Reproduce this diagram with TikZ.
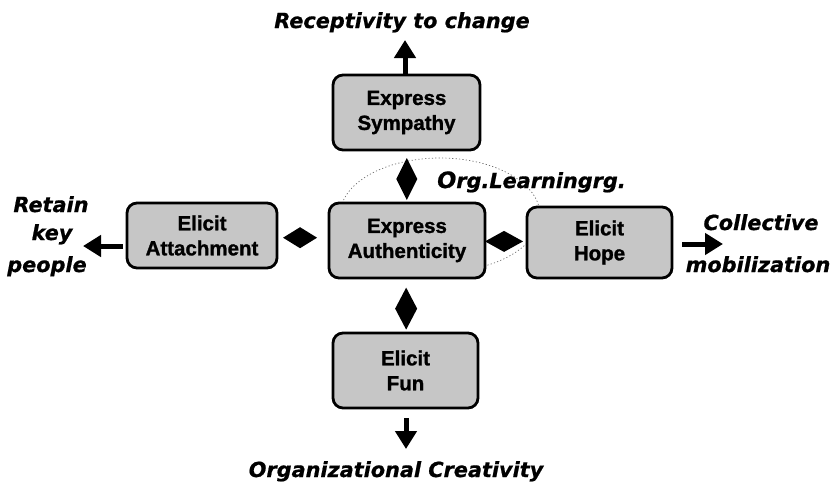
\documentclass[tikz,border=0pt]{standalone}
\usepackage{fontspec}
\setmainfont{Liberation Sans}
\newfontfamily\boxfont{Liberation Sans}[BoldFeatures={FakeBold=1.3}]
\newfontfamily\labfont{DejaVu Sans}[BoldItalicFeatures={FakeBold=0.8}]
\usetikzlibrary{shapes.geometric,arrows.meta}
\definecolor{boxgray}{HTML}{C6C6C6}
\definecolor{ellgray}{HTML}{707070}
\begin{document}
\begin{tikzpicture}[x=1pt,y=-1pt,
  box/.style={draw=black, line width=2.8pt, rounded corners=10pt, fill=boxgray,
    align=center, font=\boxfont\fontsize{20.5}{25}\selectfont\bfseries, inner sep=0pt},
  dia/.style={diamond, fill=black, draw=none, inner sep=0pt, outer sep=0pt},
  arr/.style={line width=5pt, -{Triangle[length=18pt,width=21pt]}},
  lab/.style={font=\labfont\bfseries\itshape\fontsize{20.8}{30}\selectfont, inner sep=0pt}
]
\useasboundingbox (0,0) rectangle (838,485);

% dotted ellipse (behind everything)
\draw[ellgray, line width=0.7pt, dash pattern=on 1.2pt off 2.2pt]
  (440,215) ellipse [x radius=100pt, y radius=57pt];

% boxes
\node[box, minimum width=147pt, minimum height=75pt] (sym)  at (406.5,112.5) {Express\\Sympathy};
\node[box, minimum width=156pt, minimum height=75pt] (auth) at (407,240.5)   {Express\\Authenticity};
\node[box, minimum width=150pt, minimum height=65pt] (att)  at (202,235.5)   {Elicit\\Attachment};
\node[box, minimum width=145pt, minimum height=71pt] (hope) at (599.5,242.5) {Elicit\\Hope};
\node[box, minimum width=145pt, minimum height=75pt] (fun)  at (405.5,370.5) {Elicit\\Fun};

% diamond connectors
\path (sym.south) -- (auth.north)
  node[dia, pos=0.55, minimum width=21pt, minimum height=42pt] (d1) {};
\path (att.east) -- (auth.west)
  node[dia, pos=0.44, minimum width=34pt, minimum height=21pt] (d2) {};
\path (auth.east) -- (hope.west)
  node[dia, pos=0.45, minimum width=38pt, minimum height=21pt] (d3) {};
\path (auth.south) -- (fun.north)
  node[dia, pos=0.56, minimum width=22pt, minimum height=42pt] (d4) {};

% outward arrows
\coordinate (upT) at (405,40);
\draw[arr] (sym.north -| upT) -- (upT);
\coordinate (lS) at (123,246);
\coordinate (lT) at (83,246);
\draw[arr] (lS) -- (lT);
\coordinate (rS) at (682,244);
\coordinate (rT) at (723,244);
\draw[arr] (rS) -- (rT);
\coordinate (dS) at (406,418);
\coordinate (dT) at (406,449);
\draw[arr] (dS) -- (dT);

% labels
\node[lab, anchor=base] (rec) at (402,28) {Receptivity to change};
\node[lab, anchor=base] (ret1) at (51,212) {Retain};
\node[lab, anchor=base] (ret2) at (52,240) {key};
\node[lab, anchor=base] (ret3) at (47,272) {people};
\node[lab, anchor=base] (col1) at (761,230) {Collective};
\node[lab, anchor=base] (col2) at (758,272) {mobilization};
\node[lab, anchor=base] (orgc) at (396,477) {Organizational Creativity};
\node[lab, anchor=base west] (orgl) at (437,188) {{\fontsize{22.5}{30}\selectfont O}rg.Learningrg.};
\end{tikzpicture}
\end{document}
